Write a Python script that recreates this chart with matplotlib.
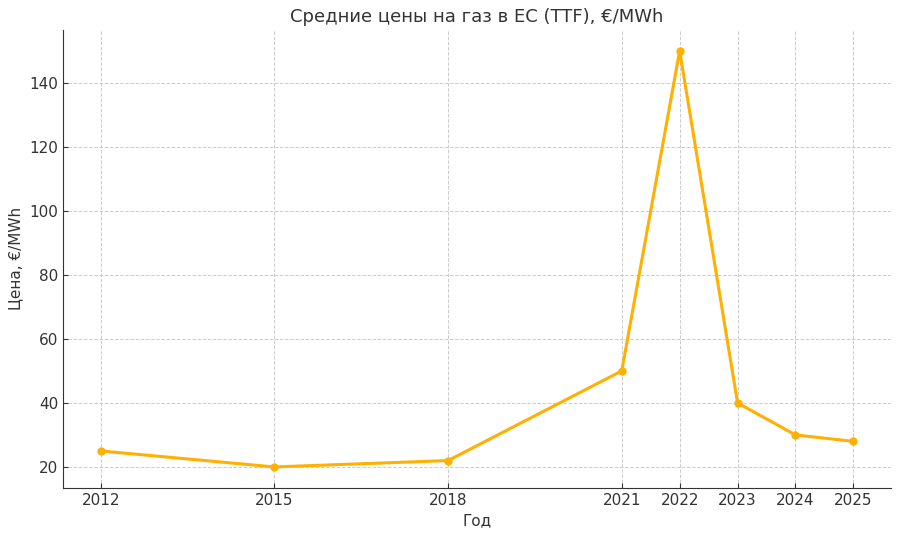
import matplotlib
matplotlib.use("Agg")
import matplotlib.pyplot as plt

# Average TTF gas prices, EUR/MWh
years = [2012, 2015, 2018, 2021, 2022, 2023, 2024, 2025]
prices = [25, 20, 22, 50, 150, 40, 30, 28]

text_color = "#333333"
plt.rcParams["font.family"] = ["DejaVu Sans"]

fig, ax = plt.subplots(figsize=(9, 5.36), dpi=100)
ax.plot(years, prices, color="#FFB000", linewidth=2.2, marker="o", markersize=5)

ax.set_title("Средние цены на газ в ЕС (TTF), €/MWh", fontsize=13, color=text_color)
ax.set_xlabel("Год", fontsize=11, color=text_color)
ax.set_ylabel("Цена, €/MWh", fontsize=11, color=text_color)
ax.set_xticks(years)

ax.grid(True, linestyle="--", color="#cccccc", linewidth=0.7)
ax.spines["top"].set_visible(False)
ax.spines["right"].set_visible(False)
for side in ("left", "bottom"):
    ax.spines[side].set_color(text_color)
ax.tick_params(direction="in", colors=text_color, labelsize=11)

fig.subplots_adjust(left=0.07, right=0.99, top=0.944, bottom=0.09)
fig.savefig("out.png")
